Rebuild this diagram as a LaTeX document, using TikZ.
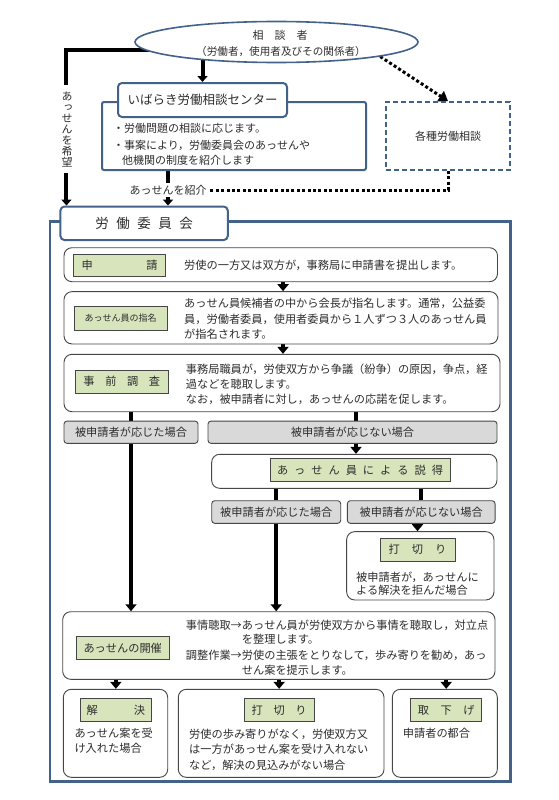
\documentclass[tikz,border=0pt]{standalone}
\usepackage{fontspec}
\setmainfont{Noto Sans CJK JP}
\newfontfamily\vertjp[RawFeature=+vert]{Noto Sans CJK JP}
\usetikzlibrary{arrows.meta,shapes.geometric}
\definecolor{bblue}{RGB}{66,98,138}
\definecolor{lgreen}{RGB}{216,228,188}
\definecolor{lgray}{RGB}{217,217,217}
\definecolor{tgray}{RGB}{45,45,45}
\definecolor{bdark}{RGB}{70,70,70}
\pgfdeclarelayer{bg}
\pgfsetlayers{bg,main}
\newcommand\jfs[1]{\fontsize{#1}{#1}\selectfont}
\begin{document}
\begin{tikzpicture}[x=1pt,y=-1pt,
  every node/.style={inner sep=0pt, text=tgray},
  rbox/.style={draw=bdark, line width=0.9pt, rounded corners=8pt, fill=white},
  lab/.style={draw=bdark, line width=0.8pt, fill=lgreen, font=\jfs{11.2}},
  gbox/.style={draw=bdark, line width=0.9pt, rounded corners=3pt, fill=lgray, font=\jfs{11.2}},
  tline/.style={anchor=west, font=\jfs{11.2}, text height=9.9pt, text depth=1.3pt},
  thk/.style={line width=4.5pt, draw=black},
  thkarr/.style={thk, -{Triangle[width=11pt,length=7pt]}},
  toparr/.style={line width=4pt, draw=black, -{Triangle[width=10pt,length=6pt]}},
  dotl/.style={line width=3pt, dash pattern=on 3pt off 2.4pt, draw=black},
]
\useasboundingbox (0,0) rectangle (558,800);

% ---------- top part ----------
\node[ellipse, draw=bblue, line width=1.6pt, fill=white, minimum width=283pt, minimum height=41pt] (soudan) at (276.5,42) {};
\node[font=\jfs{11}] (soudan1) at (280,35) {相\hspace{11pt}談\hspace{11pt}者};
\node[font=\jfs{10.6}] (soudan2) at (281,52) {（労働者，使用者及びその関係者）};

\node[draw=bblue, line width=2pt, fill=white, rounded corners=2pt, minimum width=264pt, minimum height=68pt] (sodanc) at (234,136) {};
\node[draw=bblue, line width=2pt, fill=white, rounded corners=4pt, minimum width=169pt, minimum height=34pt, font=\jfs{12.5}] (ctab) at (202.5,100) {いばらき労働相談センター};
\node[tline, font=\jfs{11}] (c1) at (113,128) {・労働問題の相談に応じます。};
\node[tline, font=\jfs{11}] (c2) at (113,145) {・事案により，労働委員会のあっせんや};
\node[tline, font=\jfs{11}] (c3) at (122,160) {他機関の制度を紹介します};

\node[draw=bblue, line width=1.8pt, dash pattern=on 5pt off 3pt, fill=white, minimum width=124pt, minimum height=68pt, font=\jfs{11}] (kakushu) at (448,136) {各種労働相談};

\node[fill=white, inner ysep=6pt, inner xsep=1pt, font={\vertjp\jfs{11}}, align=center] (kibou) at (67,129) {あ\\っ\\せ\\ん\\を\\希\\望};
\node[fill=white, inner xsep=3pt, inner ysep=2pt, font=\jfs{11}] (shoukai) at (168,190) {あっせんを紹介};

% ---------- committee ----------
\node[draw=bblue, line width=2.5pt, minimum width=460.5pt, minimum height=560.2pt] (iinbox) at (280.25,501.6) {};
\node[draw=bblue, line width=2pt, fill=white, rounded corners=4pt, minimum width=167.3pt, minimum height=33.5pt, font=\jfs{13.5}] (iinkai) at (144.1,223.3) {労\hspace{7.5pt}働\hspace{7.5pt}委\hspace{7.5pt}員\hspace{7.5pt}会};

% box 1
\node[rbox, minimum width=433.5pt, minimum height=34pt] (shinsei) at (280.75,264.7) {};
\node[lab, minimum width=91.8pt, minimum height=22pt] (shinseilab) at (119.6,265) {\makebox[76pt]{申\hfill 請}};
\node[tline] (s1) at (184,265) {労使の一方又は双方が，事務局に申請書を提出します。};

% box 2
\node[rbox, minimum width=434pt, minimum height=52.3pt] (shimei) at (281,317.8) {};
\node[lab, minimum width=93pt, minimum height=23.3pt, font=\jfs{9}] (shimeilab) at (120.5,318.3) {あっせん員の指名};
\node[tline] (m1) at (184,303.3) {あっせん員候補者の中から会長が指名します。通常，公益委};
\node[tline] (m2) at (184,319) {員，労働者委員，使用者委員から１人ずつ３人のあっせん員};
\node[tline] (m3) at (184,334) {が指名されます。};

% box 3
\node[rbox, minimum width=436pt, minimum height=57.4pt] (jizen) at (282,383) {};
\node[lab, minimum width=92.3pt, minimum height=23pt] (jizenlab) at (121.8,381.5) {\makebox[76.7pt]{事\hfill 前\hfill 調\hfill 査}};
\node[tline] (j1) at (185.7,369) {事務局職員が，労使双方から争議（紛争）の原因，争点，経};
\node[tline] (j2) at (185.7,384.3) {過などを聴取します。};
\node[tline] (j3) at (185.7,399) {なお，被申請者に対し，あっせんの応諾を促します。};

% gray branch boxes
\node[gbox, minimum width=134pt, minimum height=22.3pt] (oujita) at (131,432.2) {被申請者が応じた場合};
\node[gbox, minimum width=289pt, minimum height=22.3pt] (oujinai) at (352.5,432.2) {被申請者が応じない場合};

% settoku
\node[rbox, minimum width=285.3pt, minimum height=34pt] (settoku) at (354.3,471.3) {};
\node[lab, minimum width=180pt, minimum height=23.4pt] (settokulab) at (360,470) {\makebox[166pt]{あ\hfill っ\hfill せ\hfill ん\hfill 員\hfill に\hfill よ\hfill る\hfill 説\hfill 得}};

\node[gbox, minimum width=129pt, minimum height=22.6pt] (oujita2) at (276.2,512) {被申請者が応じた場合};
\node[gbox, minimum width=147.7pt, minimum height=22.6pt] (oujinai2) at (421.2,512) {被申請者が応じない場合};

% uchikiri (right)
\node[rbox, minimum width=147.3pt, minimum height=68.3pt] (uk1) at (420.3,565.8) {};
\node[lab, minimum width=75pt, minimum height=22.7pt] (uk1lab) at (417.5,549.7) {\makebox[57.7pt]{打\hfill 切\hfill り}};
\node[tline] (u1) at (356,576.7) {被申請者が，あっせんに};
\node[tline] (u2) at (356,590.5) {よる解決を拒んだ場合};

% kaisai
\node[rbox, minimum width=432.3pt, minimum height=67.6pt] (kaisai) at (278.85,645.5) {};
\node[lab, minimum width=93.3pt, minimum height=22.6pt] (kaisailab) at (122.7,648) {あっせんの開催};
\node[tline] (k1) at (185.7,625) {事情聴取→あっせん員が労使双方から事情を聴取し，対立点};
\node[tline] (k2) at (241.7,639.5) {を整理します。};
\node[tline] (k3) at (185.7,655) {調整作業→労使の主張をとりなして，歩み寄りを勧め，あっ};
\node[tline] (k4) at (241.7,670) {せん案を提示します。};

% bottom boxes
\node[rbox, minimum width=104.4pt, minimum height=88pt] (kk) at (115.5,733.3) {};
\node[lab, minimum width=70.3pt, minimum height=23.4pt] (kklab) at (115.85,710) {\makebox[58.3pt]{解\hfill 決}};
\node[tline] (kk1) at (74.3,733.3) {あっせん案を受};
\node[tline] (kk2) at (74.3,748.3) {け入れた場合};

\node[rbox, minimum width=205.7pt, minimum height=88pt] (uk2) at (281.15,733.3) {};
\node[lab, minimum width=70.3pt, minimum height=23.4pt] (uk2lab) at (279.15,710) {\makebox[55pt]{打\hfill 切\hfill り}};
\node[tline] (uu1) at (189,734.3) {労使の歩み寄りがなく，労使双方又};
\node[tline] (uu2) at (189,749.3) {は一方があっせん案を受け入れない};
\node[tline] (uu3) at (189,765) {など，解決の見込みがない場合};

\node[rbox, minimum width=105pt, minimum height=88pt] (ts) at (444.8,733.3) {};
\node[lab, minimum width=71pt, minimum height=23.4pt] (tslab) at (446.2,710) {\makebox[56.7pt]{取\hfill 下\hfill げ}};
\node[tline] (ts1) at (402.7,733.3) {申請者の都合};

% helper coordinates
\coordinate (a12) at ([xshift=2.3pt]shinsei.south);
\coordinate (a23) at ([xshift=2pt]shimei.south);
\coordinate (bj) at ([xshift=3.5pt]oujinai.north);
\coordinate (bs) at ([xshift=3.5pt]oujinai.south);

% ---------- connectors ----------
\begin{pgfonlayer}{bg}
\draw[toparr] ([yshift=-8pt]soudan.center) -| ([xshift=7pt]iinkai.north west);
\draw[toparr] (soudan.center -| ctab.north) -- (ctab.north);
\draw[dotl, -{Triangle[width=12pt,length=9pt]}] (soudan.-8) -- (kakushu.north);
\draw[dotl] (kakushu.south) |- (shoukai.east);
\draw[toparr] (sodanc.south -| shoukai.center) -- (iinkai.north -| shoukai.center);

\draw[thkarr] (a12) -- (a12 |- shimei.north);
\draw[thkarr] (a23) -- (a23 |- jizen.north);
\draw[thk] (jizen.south -| oujita.north) -- (oujita.north);
\draw[thk] (jizen.south -| bj) -- (bj);
\draw[thkarr] (oujita.south) -- (oujita.south |- kaisai.north);
\draw[thkarr] (bs) -- (bs |- settoku.north);
\draw[thk] (settoku.south -| oujita2.north) -- (oujita2.north);
\draw[thk] (settoku.south -| oujinai2.north) -- (oujinai2.north);
\draw[thkarr] (oujita2.south) -- (oujita2.south |- kaisai.north);
\draw[thkarr] (oujinai2.south -| uk1lab.center) -- (uk1.north -| uk1lab.center);
\draw[thkarr] (kaisai.south -| kklab.center) -- (kk.north -| kklab.center);
\draw[thkarr] (kaisai.south -| uk2lab.center) -- (uk2.north -| uk2lab.center);
\draw[thkarr] (kaisai.south -| tslab.center) -- (ts.north -| tslab.center);
\end{pgfonlayer}
\end{tikzpicture}
\end{document}
